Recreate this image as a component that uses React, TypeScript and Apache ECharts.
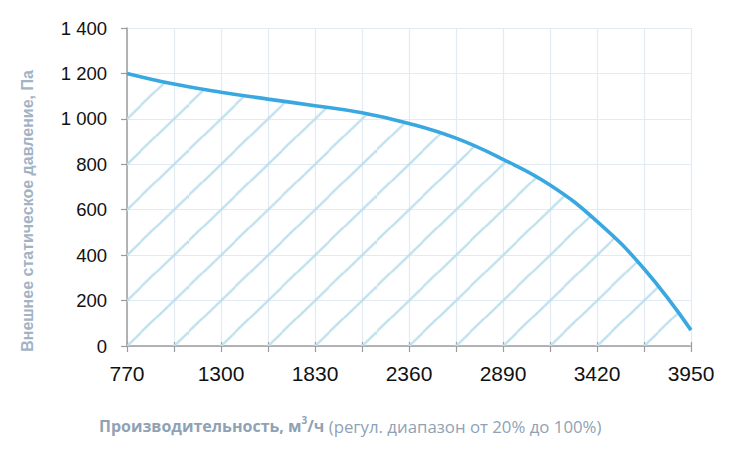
import React, { useEffect, useRef } from "react";
import * as echarts from "echarts";

// Airflow, m³/h (category ticks every 265, labels every 530)
const airflow = ["770", "1035", "1300", "1565", "1830", "2095", "2360", "2625", "2890", "3155", "3420", "3685", "3950"];
// External static pressure, Pa
const pressure = [1200, 1153, 1117, 1087, 1058, 1027, 980, 915, 822, 709, 549, 340, 70];
// Y axis range
const yMin = 0;
const yMax = 1400;
const yStep = 200;

const yTitle = "Внешнее статическое давление, Па";
const xTitleBold = "Производительность, м";
const xTitleSup = "3";
const xTitleBold2 = "/ч";
const xTitleNormal = " (регул. диапазон от 20% до 100%)";

const W = 730;
const H = 456;
const G = { left: 127, right: 39, top: 28, bottom: 110 };

function makeHatch(cellW: number, cellH: number, phase: number): HTMLCanvasElement {
  const R = 10;
  const c = document.createElement("canvas");
  c.width = Math.round(cellW * R);
  c.height = Math.round(cellH * R);
  const ctx = c.getContext("2d")!;
  ctx.strokeStyle = "#bcdeed";
  ctx.lineWidth = 2.2 * R;
  // lines u + v = phase + k in normalized tile coordinates
  for (let k = -2; k <= 2; k++) {
    const s = phase + k;
    ctx.beginPath();
    ctx.moveTo(-1 * c.width, (s + 1) * c.height);
    ctx.lineTo(2 * c.width, (s - 2) * c.height);
    ctx.stroke();
  }
  return c;
}

export default function App() {
  const ref = useRef<HTMLDivElement>(null);
  useEffect(() => {
    document.body.style.margin = "0";
    if (!ref.current) return;
    const chart = echarts.init(ref.current, null, { renderer: "svg" });
    const plotW = W - G.left - G.right;
    const plotH = H - G.top - G.bottom;
    const cellW = plotW / (airflow.length - 1);
    const cellH = plotH / ((yMax - yMin) / yStep);
    const raw = G.left / cellW + (H - G.bottom) / cellH;
    const phase = raw - Math.floor(raw);
    const hatch = makeHatch(cellW, cellH, phase);
    const gridColor = "#e2ebf4";
    chart.setOption({
      animation: false,
      grid: { left: G.left, right: G.right, top: G.top, bottom: G.bottom, containLabel: false },
      xAxis: [
        {
          type: "category",
          data: airflow,
          boundaryGap: false,
          axisLine: { lineStyle: { color: "#9c9c9c", width: 1.5 } },
          axisTick: { show: true, interval: 0, length: 6, lineStyle: { color: "#9c9c9c", width: 1.2 } },
          axisLabel: {
            interval: 1,
            margin: 17,
            color: "#111",
            fontSize: 21,
            fontFamily: "'Liberation Sans Narrow', 'Arial Narrow', 'Liberation Sans', Arial, sans-serif",
          },
          splitLine: { show: true, interval: 0, lineStyle: { color: gridColor, width: 1.2 } },
        },
        {
          type: "category",
          data: airflow,
          boundaryGap: false,
          position: "bottom",
          axisLine: { show: false },
          axisTick: { show: true, inside: true, interval: 0, length: 4, lineStyle: { color: "#9c9c9c", width: 1.2 } },
          axisLabel: { show: false },
          splitLine: { show: false },
        },
      ],
      yAxis: {
        type: "value",
        min: yMin,
        max: yMax,
        interval: yStep,
        axisLine: { show: true, lineStyle: { color: "#9c9c9c", width: 1.5 } },
        axisTick: { show: true, length: 6, lineStyle: { color: "#9c9c9c", width: 1.2 } },
        axisLabel: {
          margin: 20,
          color: "#111",
          fontSize: 18.5,
          fontFamily: "'Liberation Sans', Arial, sans-serif",
          formatter: (v: number) => {
            const s = String(v);
            return s.length > 3 ? s.slice(0, s.length - 3) + " " + s.slice(-3) : s;
          },
        },
        splitLine: { show: true, lineStyle: { color: gridColor, width: 1.2 } },
      },
      series: [
        {
          type: "line",
          data: pressure,
          smooth: 0.45,
          symbol: "none",
          lineStyle: { color: "#3aa8e0", width: 3.6 },
          areaStyle: {
            opacity: 1,
            color: {
              image: hatch,
              repeat: "repeat",
              imageWidth: cellW,
              imageHeight: cellH,
            },
          },
          z: 3,
        },
      ],
      graphic: [
        {
          type: "text",
          x: 27,
          y: 211,
          rotation: Math.PI / 2,
          style: {
            text: yTitle,
            align: "center",
            verticalAlign: "middle",
            fill: "#a2b3c4",
            fontSize: 16,
            fontWeight: "bold",
            fontFamily: "'Liberation Sans', Arial, sans-serif",
          },
        },
        {
          type: "text",
          x: 99,
          y: 426,
          style: {
            text: `{b|${xTitleBold}}{sup|${xTitleSup}}{b|${xTitleBold2}}{n|${xTitleNormal}}`,
            verticalAlign: "middle",
            align: "left",
            rich: {
              b: { fontSize: 16, fontWeight: "bold", fontFamily: "'Open Sans', sans-serif", fill: "#8fa2b5", lineHeight: 22 },
              sup: { fontSize: 10, fontWeight: "bold", fontFamily: "'Open Sans', sans-serif", fill: "#8fa2b5", lineHeight: 10, verticalAlign: "top" },
              n: { fontSize: 16.8, fontFamily: "'Open Sans', sans-serif", fill: "#8fa2b5", lineHeight: 22 },
            },
          },
        },
      ],
    });
    return () => chart.dispose();
  }, []);
  return <div ref={ref} style={{ width: W, height: H }} />;
}
